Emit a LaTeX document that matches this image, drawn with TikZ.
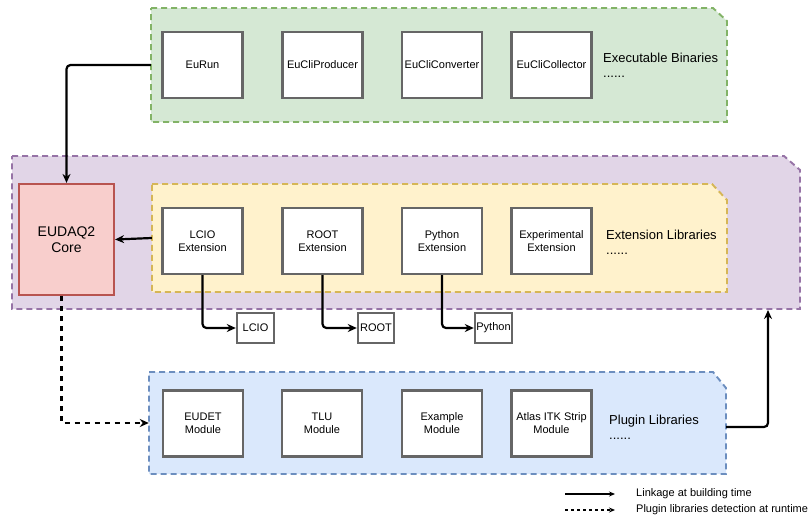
\documentclass[tikz,border=0pt]{standalone}
\usepackage{fontspec}
\setmainfont{Liberation Sans}
\usetikzlibrary{arrows.meta,calc}
\definecolor{gfill}{HTML}{D5E8D4}\definecolor{gdraw}{HTML}{82B366}
\definecolor{pfill}{HTML}{E1D5E7}\definecolor{pdraw}{HTML}{9673A6}
\definecolor{yfill}{HTML}{FFF2CC}\definecolor{ydraw}{HTML}{D6B656}
\definecolor{bfill}{HTML}{DAE8FC}\definecolor{bdraw}{HTML}{6C8EBF}
\definecolor{rfill}{HTML}{F8CECC}\definecolor{rdraw}{HTML}{B85450}
\definecolor{boxgray}{HTML}{666666}
\tikzset{
  container/.style={line width=1.9pt, dash pattern=on 6pt off 4pt},
  anchorbox/.style={draw=none, fill=none, inner sep=0pt, minimum width=#1},
  modbox/.style={draw=boxgray, fill=white, line width=2.4pt, minimum width=80pt, minimum height=66pt, inner sep=1pt, align=center, font=\fontsize{11}{13}\selectfont},
  smallbox/.style={draw=boxgray, fill=white, line width=2.4pt, minimum height=30pt, inner sep=1pt, font=\fontsize{11}{13}\selectfont},
  grouplabel/.style={anchor=north west, inner sep=0pt, align=left, font=\fontsize{13}{15}\selectfont},
  arr/.style={-{Stealth[length=9pt,width=8pt]}, line width=2.2pt, rounded corners=4pt},
  darr/.style={-{Stealth[length=9pt,width=8pt]}, line width=2.2pt, dash pattern=on 5pt off 5pt},
  legtext/.style={anchor=west, inner sep=0pt, font=\fontsize{11}{13}\selectfont}
}
\begin{document}
\begin{tikzpicture}[x=1pt,y=-1pt]
\useasboundingbox (0,0) rectangle (809,515);
% containers
\draw[container, fill=gfill, draw=gdraw] (151,8) -- (713,8) -- (727,21) -- (727,122) -- (151,122) -- cycle;
\node[anchorbox=576pt, minimum height=114pt] (green) at (439,65) {};
\draw[container, fill=pfill, draw=pdraw] (12,156) -- (784,156) -- (800,170) -- (800,309) -- (12,309) -- cycle;
\node[anchorbox=788pt, minimum height=153pt] (purple) at (406,232.5) {};
\draw[container, fill=yfill, draw=ydraw] (152,184) -- (712,184) -- (727,200) -- (727,292) -- (152,292) -- cycle;
\node[anchorbox=575pt, minimum height=108pt] (yellow) at (439.5,238) {};
\draw[container, fill=bfill, draw=bdraw] (149,372) -- (713,372) -- (726,388) -- (726,474) -- (149,474) -- cycle;
\node[anchorbox=577pt, minimum height=102pt] (blue) at (437.5,423) {};
% core
\node[draw=rdraw, fill=rfill, line width=2.2pt, minimum width=95pt, minimum height=111pt, align=center, font=\fontsize{14}{16}\selectfont] (core) at (66.5,239.5) {EUDAQ2\\Core};
% executables
\node[modbox] (eurun) at (202.5,65) {EuRun};
\node[modbox] (euprod) at (322.5,65) {EuCliProducer};
\node[modbox] (euconv) at (442,65) {EuCliConverter};
\node[modbox] (eucoll) at (551.5,65) {EuCliCollector};
\node[grouplabel] (exelabel) at (603,52.5) {Executable Binaries\\......};
% extensions
\node[modbox] (lcioext) at (202.5,241) {LCIO\\Extension};
\node[modbox] (rootext) at (322.5,241) {ROOT\\Extension};
\node[modbox] (pyext) at (442,241) {Python\\Extension};
\node[modbox] (expext) at (551.5,241) {Experimental\\Extension};
\node[grouplabel] (extlabel) at (606,229.5) {Extension Libraries\\......};
% small libs
\node[smallbox, minimum width=37pt] (lcio) at (255.5,328) {LCIO};
\node[smallbox, minimum width=36pt] (root) at (376,328) {ROOT};
\node[smallbox, minimum width=37pt] (python) at (493.5,328) {Python};
% plugins
\node[modbox] (eudet) at (203,423.5) {EUDET\\Module};
\node[modbox] (tlu) at (322,423.5) {TLU\\Module};
\node[modbox] (example) at (442,423.5) {Example\\Module};
\node[modbox] (atlas) at (551.5,423.5) {Atlas ITK Strip\\Module};
\node[grouplabel] (pluglabel) at (609,414.5) {Plugin Libraries\\......};
% connectors
\draw[arr] (green.west) -| (core.north);
\draw[arr] (yellow.west) -- (core.east);
\draw[arr] (lcioext.south) |- (lcio.west);
\draw[arr] (rootext.south) |- (root.west);
\draw[arr] (pyext.south) |- (python.west);
\draw[darr] ([xshift=-5pt]core.south) |- (blue.west);
\coordinate (purplein) at (768,310);
\draw[arr] ([yshift=-4pt]blue.east) -| (purplein);
% legend
\coordinate (l1a) at (565,494); \coordinate (l1b) at (615,494);
\coordinate (l2a) at (565,510); \coordinate (l2b) at (615,510);
\draw[-{Stealth[length=6pt,width=5pt]}, line width=1.1pt] (l1a) -- (l1b);
\draw[-{Stealth[length=6pt,width=5pt]}, line width=1.1pt, dash pattern=on 3pt off 3pt] (l2a) -- (l2b);
\node[legtext] (leg1) at (636,494) {Linkage at building time};
\node[legtext] (leg2) at (636,510) {Plugin libraries detection at runtime};
\end{tikzpicture}
\end{document}
